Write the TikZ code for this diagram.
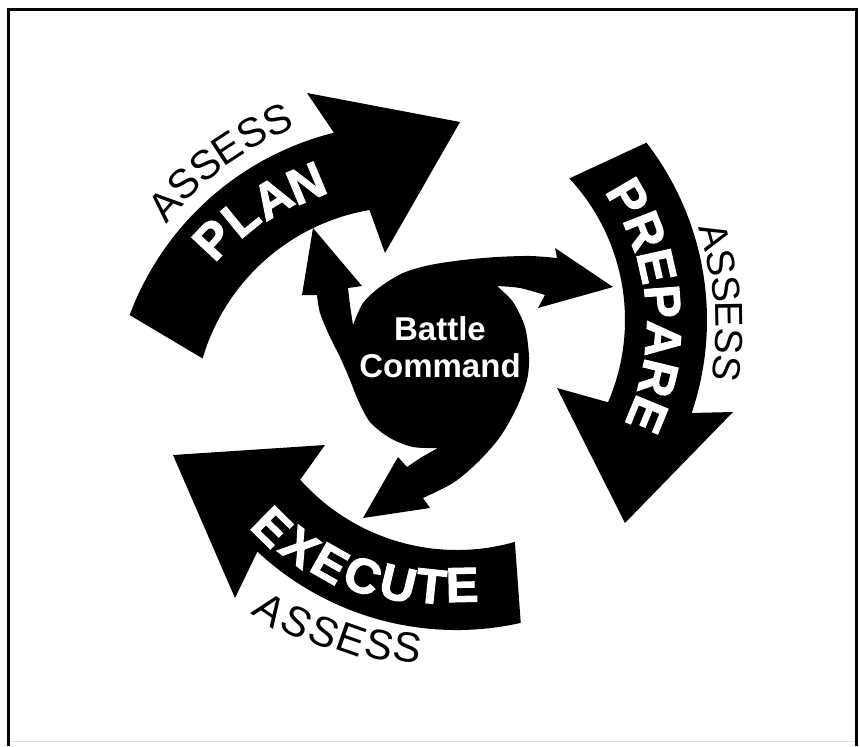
\documentclass[tikz,border=0pt]{standalone}
\usepackage{fontspec}
\setmainfont{Liberation Sans}
\newfontfamily\heavyfont{Liberation Sans}[BoldFeatures={FakeBold=2.2}]
\tikzset{
  bigarrow/.style={fill=black},
  heavyletter/.style={text=white, inner sep=0pt, font=\heavyfont\bfseries\fontsize{#1}{#1}\selectfont},
  thinletter/.style={text=black, inner sep=0pt, font=\fontsize{#1}{#1}\selectfont},
  centreword/.style={anchor=base, text=white, font=\bfseries\fontsize{33}{33}\selectfont},
}
% letters with their tops pointing away from the centre
\newcommand{\lettersout}[4]{% centre, style, name prefix, list letter/angle/radius
  \begin{scope}[shift={#1}]
  \foreach \ch/\ang/\rad [count=\i] in {#4} {
    \node[#2, rotate={-1*(\ang)-90}] (#3\i) at (\ang:\rad) {\ch};
  }
  \end{scope}}
% letters with their tops pointing towards the centre
\newcommand{\lettersin}[4]{%
  \begin{scope}[shift={#1}]
  \foreach \ch/\ang/\rad [count=\i] in {#4} {
    \node[#2, rotate={90-1*(\ang)}] (#3\i) at (\ang:\rad) {\ch};
  }
  \end{scope}}
\begin{document}
\begin{tikzpicture}[x=1pt,y=-1pt]
\useasboundingbox (0,0) rectangle (860,747);
\fill[white] (0,0) rectangle (860,747);
% frame
\draw[line width=3pt] (8.5,746) -- (8.5,9.5) -- (856.5,9.5) -- (856.5,746);
\draw[line width=1pt, black!12] (10,741) -- (855,741);

% PLAN arrow (centre 405,418)
\fill[bigarrow, shift={(405,418)}]
  (-159.5:294) arc[start angle=-159.5, end angle=-104, radius=294]
  -- (-98,-325) -- (55,-296) -- (-20,-165)
  -- (-99.7:211) arc[start angle=-99.7, end angle=-163.6, radius=211] -- cycle;

% PREPARE arrow (centre 417,320)
\fill[bigarrow, shift={(417,320)}]
  (-37.7:290) arc[start angle=-37.7, end angle=18.7, radius=290]
  -- (316,92) -- (208,203) -- (140,68)
  -- (23.3:208) arc[start angle=23.3, end angle=-42.9, radius=208] -- cycle;

% EXECUTE arrow (centre 457,340)
\fill[bigarrow, shift={(457,340)}]
  (77.3:290) arc[start angle=77.3, end angle=133, radius=292]
  -- (-222,258) -- (-284,115) -- (-132,105)
  -- (138.3:210) arc[start angle=138.3, end angle=74, radius=210] -- cycle;

% Battle command pinwheel
\fill[black]
  (313,228) -- (362,286) -- (348,288)
  -- plot[smooth] coordinates {(348,288) (350,305) (353,325)}
  -- plot[smooth] coordinates {(353,325) (363,303) (380,287) (403,273) (430,265) (463,260) (497,257) (530,256) (557,258)}
  -- (555,248) -- (613,287) -- (538,308) -- (545,295)
  -- plot[smooth] coordinates {(545,295) (520,288) (497,286)}
  -- plot[smooth] coordinates {(497,286) (513,302) (525,327) (529,357) (527,380) (517,407) (500,437) (477,463) (453,483) (423,498)}
  -- (430,508) -- (363,518) -- (398,457) -- (407,467)
  -- plot[smooth] coordinates {(407,467) (422,457) (438,448)}
  -- plot[smooth] coordinates {(438,448) (413,447) (390,438) (370,422) (358,400) (350,380) (340,357) (330,337) (320,313) (317,295)}
  -- (302,295) -- cycle;

\node[centreword] (battle) at (440,340) {Battle};
\node[centreword] (command) at (440,377) {Command};

% words on the arrows
\lettersout{(405,418)}{heavyletter=50}{plan}{P/-137/262, L/-129.3/259.5, A/-121.1/257, N/-112.8/254.6}
\lettersout{(417,320)}{heavyletter=50}{prep}{P/-30.2/244, R/-21.4/244.8, E/-12.7/245.6, P/-4.3/246.4, A/4.5/247.2, R/13.6/248, E/22.4/248.8}
\lettersin{(457,340)}{heavyletter=49}{exec}{E/134.7/263, X/127.2/260, E/119.6/257, C/111.8/254, U/103.6/250.8, T/96/247.8, E/88.8/245}

% ASSESS labels
\lettersout{(405,418)}{thinletter=41}{asa}{A/-138.4/321, S/-133.4/321.7, S/-128.3/322.3, E/-123.3/323, S/-118.2/323.6, S/-113.2/324.3}
\lettersout{(417,320)}{thinletter=39}{asb}{A/-15.6/309, S/-10.7/310, S/-5.8/310.9, E/-1/311.8, S/3.9/312.8, S/8.8/313.7}
\lettersin{(457,340)}{thinletter=42}{asc}{A/124.7/328, S/119.6/324.6, S/114.5/321.2, E/109.3/317.8, S/104.2/314.4, S/99.1/311}
\end{tikzpicture}
\end{document}
